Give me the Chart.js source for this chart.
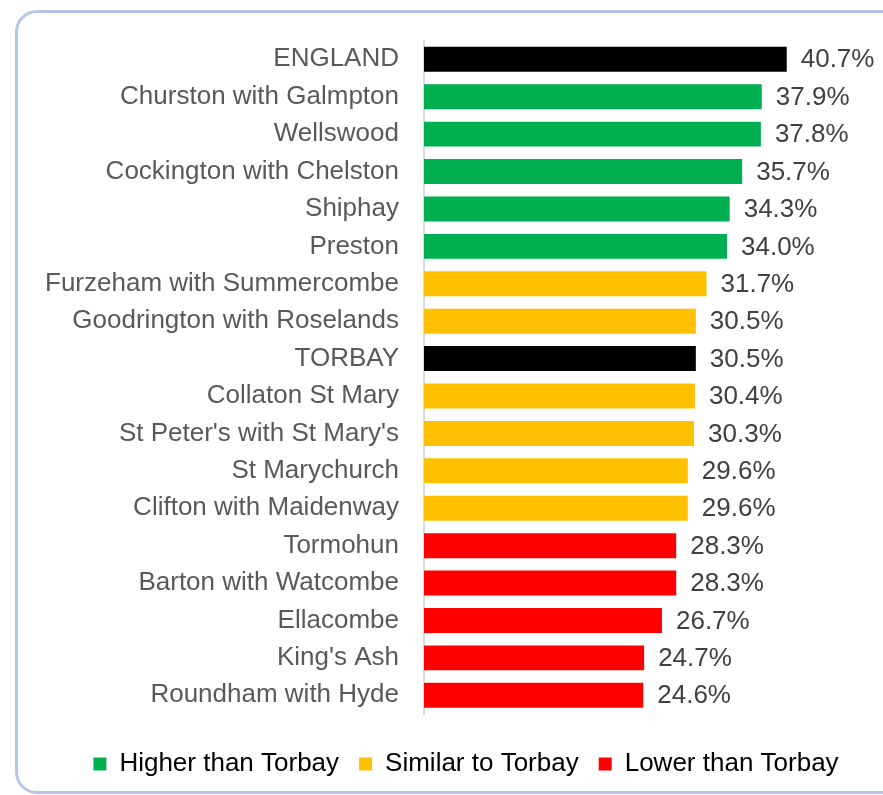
<!DOCTYPE html>
<html>
<head>
<meta charset="utf-8">
<script src="https://cdn.jsdelivr.net/npm/chart.js@4"></script>
<style>
  html, body { margin: 0; padding: 0; background: #fff; overflow: hidden; width: 883px; height: 795px; }
  #frame {
    position: absolute; left: 15px; top: 10px; width: 930px; height: 784px;
    box-sizing: border-box; border: 3px solid #b4c7e7; border-radius: 22px;
  }
  #wrap { position: absolute; left: 0; top: 0; width: 932px; height: 795px; }
</style>
</head>
<body>
<div id="frame"></div>
<div id="wrap"><canvas id="chart" width="932" height="795"></canvas></div>
<script>
const areas = ['ENGLAND', 'Churston with Galmpton', 'Wellswood', 'Cockington with Chelston', 'Shiphay', 'Preston',
  'Furzeham with Summercombe', 'Goodrington with Roselands', 'TORBAY', 'Collaton St Mary', "St Peter's with St Mary's",
  'St Marychurch', 'Clifton with Maidenway', 'Tormohun', 'Barton with Watcombe', 'Ellacombe', "King's Ash", 'Roundham with Hyde'];
const values = [40.7, 37.9, 37.8, 35.7, 34.3, 34.0, 31.7, 30.5, 30.5, 30.4, 30.3, 29.6, 29.6, 28.3, 28.3, 26.7, 24.7, 24.6];
// comparison with Torbay: 'ref' = England / Torbay itself
const groups = ['ref', 'higher', 'higher', 'higher', 'higher', 'higher', 'similar', 'similar', 'ref', 'similar', 'similar',
  'similar', 'similar', 'lower', 'lower', 'lower', 'lower', 'lower'];
const legendNames = { higher: 'Higher than Torbay', similar: 'Similar to Torbay', lower: 'Lower than Torbay' };
const colours = { ref: '#000000', higher: '#00b050', similar: '#ffc000', lower: '#ff0000' };

const FONT = "'Liberation Sans', Arial, sans-serif";

// value labels at the end of each bar
const valueLabels = {
  id: 'valueLabels',
  afterDatasetsDraw(chart) {
    const ctx = chart.ctx;
    const meta = chart.getDatasetMeta(0);
    ctx.save();
    ctx.font = '26px ' + FONT;
    ctx.fillStyle = '#404040';
    ctx.textAlign = 'left';
    ctx.textBaseline = 'middle';
    meta.data.forEach((bar, i) => {
      ctx.fillText(values[i].toFixed(1) + '%', bar.x + 14, bar.y + 1);
    });
    ctx.restore();
  }
};

new Chart(document.getElementById('chart'), {
  type: 'bar',
  data: {
    labels: areas,
    datasets: [{
      data: values,
      backgroundColor: groups.map(g => colours[g]),
      categoryPercentage: 1,
      barPercentage: 0.667
    }]
  },
  options: {
    indexAxis: 'y',
    responsive: false,
    animation: false,
    layout: { padding: { top: 32, bottom: 8, left: 0, right: 0 } },
    scales: {
      x: {
        min: 0, max: 57,
        ticks: { display: false },
        grid: { display: false, drawTicks: false },
        border: { display: false },
        afterFit(s) { s.height = 17; }
      },
      y: {
        grid: { display: false, drawTicks: false },
        border: { color: '#d9d9d9', width: 2 },
        ticks: { color: '#595959', font: { family: FONT, size: 26 }, padding: 25 },
        afterFit(s) { s.width = 424; }
      }
    },
    plugins: {
      tooltip: { enabled: false },
      legend: {
        position: 'bottom',
        labels: {
          color: '#595959',
          font: { family: FONT, size: 26 },
          boxWidth: 13,
          boxHeight: 13,
          padding: 20,
          generateLabels: () => ['higher', 'similar', 'lower'].map(g => ({
            text: legendNames[g],
            fillStyle: colours[g],
            strokeStyle: colours[g],
            lineWidth: 0,
            hidden: false
          }))
        }
      }
    }
  },
  plugins: [valueLabels]
});
</script>
</body>
</html>
